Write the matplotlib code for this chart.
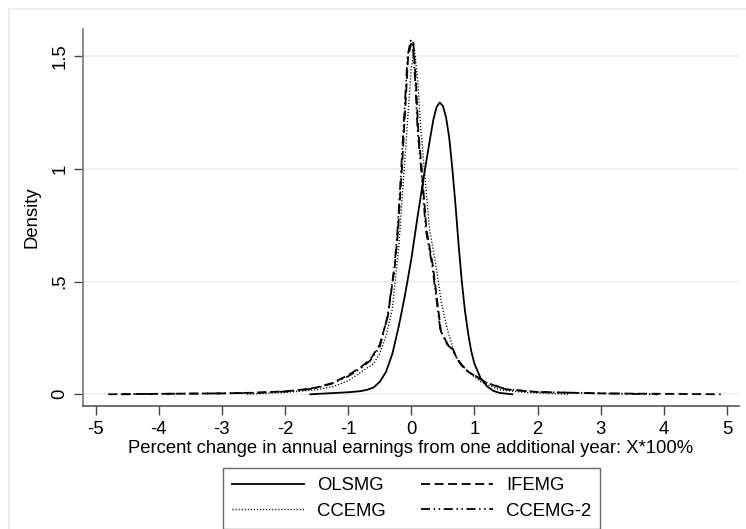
import numpy as np
import matplotlib
matplotlib.use("Agg")
import matplotlib.pyplot as plt
from matplotlib.lines import Line2D

plt.rcParams['font.family'] = ['Liberation Sans', 'DejaVu Sans']

# ---- data ----
olsmg_x = [-1.6, -1.2, -1.0, -0.8, -0.7, -0.6, -0.5, -0.4, -0.3, -0.2, -0.1, 0.0, 0.1, 0.2,
           0.3, 0.35, 0.4, 0.45, 0.5, 0.55, 0.6, 0.65, 0.7, 0.75, 0.8, 0.85, 0.9, 0.95, 1.0,
           1.1, 1.2, 1.3, 1.4, 1.6]
olsmg_y = [0.0, 0.006, 0.009, 0.014, 0.02, 0.03, 0.055, 0.1, 0.18, 0.3, 0.44, 0.6, 0.79, 0.97,
           1.14, 1.22, 1.275, 1.295, 1.28, 1.23, 1.14, 1.0, 0.84, 0.66, 0.5, 0.37, 0.27, 0.19,
           0.135, 0.07, 0.035, 0.015, 0.006, 0.0]

ifemg_x = [-4.8, -4.0, -3.0, -2.5, -2.0, -1.75, -1.5, -1.25, -1.0, -0.8, -0.65, -0.5, -0.37,
           -0.26, -0.21, -0.15, -0.1, -0.05, 0.0, 0.03, 0.07, 0.11, 0.165, 0.24, 0.34, 0.47,
           0.58, 0.66, 0.72, 0.79, 0.9, 0.98, 1.2, 1.5, 2.0, 2.5, 3.0, 4.0, 4.9]
ifemg_y = [0.0, 0.002, 0.004, 0.007, 0.013, 0.02, 0.03, 0.05, 0.085, 0.12, 0.155, 0.22, 0.35,
           0.573, 0.73, 1.0, 1.25, 1.5, 1.56, 1.57, 1.4, 1.17, 1.0, 0.73, 0.573, 0.278,
           0.22, 0.2, 0.16, 0.13, 0.1, 0.086, 0.05, 0.022, 0.01, 0.007, 0.004, 0.002, 0.0]

ccemg_x = [-2.6, -2.0, -1.5, -1.24, -1.0, -0.7, -0.6, -0.5, -0.4, -0.3, -0.2, -0.1, 0.0,
           0.05, 0.1, 0.15, 0.22, 0.29, 0.39, 0.48, 0.58, 0.7, 0.8, 0.92, 1.1, 1.4, 1.8, 2.5]
ccemg_y = [0.0, 0.008, 0.02, 0.034, 0.06, 0.117, 0.135, 0.18, 0.26, 0.38, 0.65, 1.05, 1.45,
           1.53, 1.4, 1.18, 0.95, 0.73, 0.573, 0.4, 0.278, 0.17, 0.13, 0.095, 0.055, 0.02, 0.008, 0.0]

ccemg2_x = [-4.6, -4.0, -3.0, -2.5, -2.0, -1.75, -1.5, -1.25, -1.0, -0.8, -0.65, -0.5, -0.38,
            -0.27, -0.22, -0.16, -0.11, -0.06, -0.01, 0.02, 0.06, 0.1, 0.155, 0.23, 0.33, 0.46,
            0.57, 0.65, 0.72, 0.8, 0.9, 1.0, 1.2, 1.5, 2.0, 2.5, 3.0, 3.9]
ccemg2_y = [0.0, 0.002, 0.004, 0.006, 0.012, 0.018, 0.028, 0.048, 0.08, 0.115, 0.15, 0.21, 0.34,
            0.56, 0.72, 1.0, 1.25, 1.5, 1.57, 1.56, 1.4, 1.17, 1.0, 0.73, 0.573, 0.285,
            0.22, 0.2, 0.16, 0.13, 0.1, 0.085, 0.05, 0.022, 0.01, 0.007, 0.004, 0.0]

xticks = [-5, -4, -3, -2, -1, 0, 1, 2, 3, 4, 5]
yticks = [0, 0.5, 1, 1.5]
ytick_labels = ['0', '.5', '1', '1.5']

fs = 13.3

fig = plt.figure(figsize=(7.46, 5.29), dpi=100)
ax = fig.add_axes([83 / 746, 1 - 406 / 529, (739 - 83) / 746, (406 - 29.3) / 529])

# stata-style light outer frame (cropped at right / bottom)
frame_col = '#e6edef'
fig.add_artist(Line2D([9 / 746, 9 / 746], [0, 1 - 9 / 529], transform=fig.transFigure,
                      color=frame_col, lw=1.2))
fig.add_artist(Line2D([9 / 746, 1], [1 - 9 / 529, 1 - 9 / 529], transform=fig.transFigure,
                      color=frame_col, lw=1.2))

for y in yticks:
    ax.axhline(y, color='#eaf2f3', lw=1.4, zorder=0)

lw = 1.3
l_ols, = ax.plot(olsmg_x, olsmg_y, color='black', lw=lw, ls='-')
l_ife, = ax.plot(ifemg_x, ifemg_y, color='black', lw=lw, ls=(0, (5, 2.5)))
l_cce, = ax.plot(ccemg_x, ccemg_y, color='black', lw=1.0, ls=(0, (0.8, 1.4)))
l_cce2, = ax.plot(ccemg2_x, ccemg2_y, color='black', lw=lw, ls=(0, (5, 2, 0.8, 2, 0.8, 2)))

ax.set_xlim(-5.2, 5.19)
ax.set_ylim(-0.052, 1.62)
ax.set_xticks(xticks)
ax.set_xticklabels([str(t) for t in xticks])
ax.set_yticks(yticks)
ax.set_yticklabels(ytick_labels, rotation=90, va='center')

for s in ['top', 'right']:
    ax.spines[s].set_visible(False)
ax.spines['left'].set_color('#777777')
ax.spines['bottom'].set_color('#555555')
ax.spines['left'].set_linewidth(1.2)
ax.spines['bottom'].set_linewidth(1.2)
ax.tick_params(direction='out', length=6.5, width=1, color='#444444', labelsize=fs, pad=4)

ax.set_xlabel('Percent change in annual earnings from one additional year: X*100%', fontsize=fs,
              labelpad=2)
ax.set_ylabel('Density', fontsize=fs, labelpad=8)

# column-wise fill: row 1 = OLSMG, IFEMG; row 2 = CCEMG, CCEMG-2
leg = fig.legend([l_ols, l_cce, l_ife, l_cce2], ['OLSMG', 'CCEMG', 'IFEMG', 'CCEMG-2'],
                 loc='upper center', bbox_to_anchor=(411.5 / 746, 1 - 468 / 529), ncol=2,
                 fontsize=fs, frameon=True, fancybox=False, handlelength=3.9, handletextpad=0.7,
                 columnspacing=1.9, labelspacing=0.45, borderpad=0.5, borderaxespad=0,
                 edgecolor='#444444')
leg.get_frame().set_linewidth(1.0)

fig.savefig('out.png', dpi=100)
